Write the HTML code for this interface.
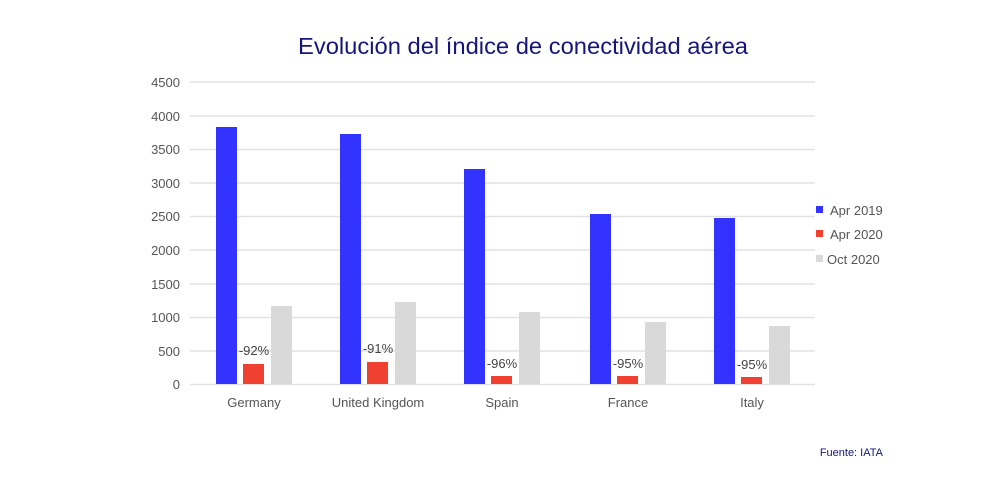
<!DOCTYPE html>
<html><head><meta charset="utf-8"><style>
html,body{margin:0;padding:0;background:#fff;width:1000px;height:500px;overflow:hidden}
svg{display:block}
text{font-family:"Liberation Sans",sans-serif}
</style></head><body>
<svg width="1000" height="500" viewBox="0 0 1000 500">
<text x="523" y="54" text-anchor="middle" font-size="23" fill="#16167a" textLength="450" lengthAdjust="spacingAndGlyphs">Evolución del índice de conectividad aérea</text>
<g stroke="#e2e2e2" stroke-width="1.5">
<line x1="190" x2="815" y1="82" y2="82"/><line x1="190" x2="815" y1="116" y2="116"/>
<line x1="190" x2="815" y1="149.5" y2="149.5"/><line x1="190" x2="815" y1="183" y2="183"/>
<line x1="190" x2="815" y1="216.5" y2="216.5"/><line x1="190" x2="815" y1="250" y2="250"/>
<line x1="190" x2="815" y1="284" y2="284"/><line x1="190" x2="815" y1="317.5" y2="317.5"/>
<line x1="190" x2="815" y1="351" y2="351"/><line x1="190" x2="815" y1="384.5" y2="384.5"/>
</g>
<g font-size="13" fill="#555" text-anchor="end">
<text x="180" y="87">4500</text><text x="180" y="121">4000</text><text x="180" y="154">3500</text>
<text x="180" y="188">3000</text><text x="180" y="221">2500</text><text x="180" y="255">2000</text>
<text x="180" y="289">1500</text><text x="180" y="322">1000</text><text x="180" y="356">500</text>
<text x="180" y="389">0</text>
</g>
<g>
<rect x="216" y="127" width="21" height="257" fill="#3333ff"/>
<rect x="243" y="364" width="21" height="20" fill="#f04030"/>
<rect x="271" y="306" width="21" height="78" fill="#d9d9d9"/>
<rect x="340" y="134" width="21" height="250" fill="#3333ff"/>
<rect x="367" y="362" width="21" height="22" fill="#f04030"/>
<rect x="395" y="302" width="21" height="82" fill="#d9d9d9"/>
<rect x="464" y="169" width="21" height="215" fill="#3333ff"/>
<rect x="491" y="376" width="21" height="8" fill="#f04030"/>
<rect x="519" y="312" width="21" height="72" fill="#d9d9d9"/>
<rect x="590" y="214" width="21" height="170" fill="#3333ff"/>
<rect x="617" y="376" width="21" height="8" fill="#f04030"/>
<rect x="645" y="322" width="21" height="62" fill="#d9d9d9"/>
<rect x="714" y="218" width="21" height="166" fill="#3333ff"/>
<rect x="741" y="377" width="21" height="7" fill="#f04030"/>
<rect x="769" y="326" width="21" height="58" fill="#d9d9d9"/>
</g>
<g font-size="13" fill="#444" text-anchor="middle">
<text x="254" y="355">-92%</text><text x="378" y="353">-91%</text>
<text x="502" y="368">-96%</text><text x="628" y="368">-95%</text><text x="752" y="369">-95%</text>
</g>
<g font-size="13" fill="#555" text-anchor="middle">
<text x="254" y="407">Germany</text><text x="378" y="407">United Kingdom</text>
<text x="502" y="407">Spain</text><text x="628" y="407">France</text><text x="752" y="407">Italy</text>
</g>
<rect x="816" y="206" width="7" height="7" fill="#3333ff"/>
<rect x="816" y="230" width="7" height="7" fill="#f04030"/>
<rect x="816" y="255" width="7" height="7" fill="#d9d9d9"/>
<g font-size="13" fill="#555">
<text x="830" y="215">Apr 2019</text><text x="830" y="239">Apr 2020</text><text x="827" y="264">Oct 2020</text>
</g>
<text x="883" y="456" text-anchor="end" font-size="11" fill="#16167a">Fuente: IATA</text>
</svg>
</body></html>
